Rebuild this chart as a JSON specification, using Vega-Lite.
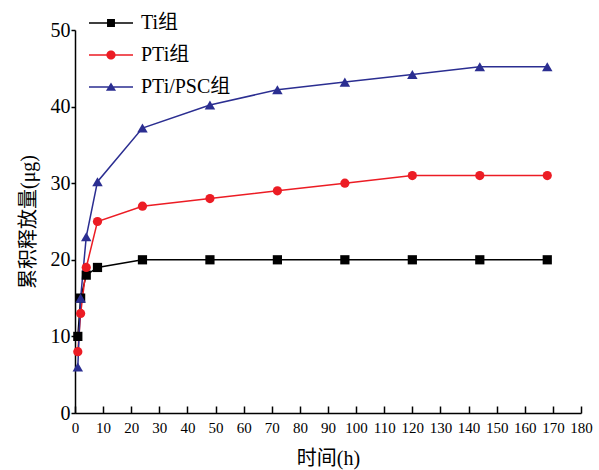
{
  "$schema": "https://vega.github.io/schema/vega-lite/v6.json",
  "width": 506,
  "height": 383,
  "autosize": "none",
  "padding": {"left": 75, "top": 30, "right": 18, "bottom": 57},
  "background": "white",
  "config": {
    "view": {"stroke": null},
    "font": "Liberation Serif, Noto Sans CJK SC",
    "axis": {
      "grid": false,
      "domainColor": "#000000",
      "domainWidth": 1.5,
      "tickColor": "#000000",
      "tickWidth": 1.5,
      "labelColor": "#000000",
      "titleColor": "#000000",
      "labelFont": "Liberation Serif",
      "titleFont": "Liberation Serif, Noto Sans CJK SC",
      "titleFontWeight": "normal"
    },
    "legend": {
      "symbolOpacity": 1,
      "symbolStrokeWidth": 0,
      "symbolSize": 1936
    }
  },
  "data": {
    "values": [
      {"t": 1, "v": 10, "g": "Ti组"},
      {"t": 2, "v": 15, "g": "Ti组"},
      {"t": 4, "v": 18, "g": "Ti组"},
      {"t": 8, "v": 19, "g": "Ti组"},
      {"t": 24, "v": 20, "g": "Ti组"},
      {"t": 48, "v": 20, "g": "Ti组"},
      {"t": 72, "v": 20, "g": "Ti组"},
      {"t": 96, "v": 20, "g": "Ti组"},
      {"t": 120, "v": 20, "g": "Ti组"},
      {"t": 144, "v": 20, "g": "Ti组"},
      {"t": 168, "v": 20, "g": "Ti组"},
      {"t": 1, "v": 8, "g": "PTi组"},
      {"t": 2, "v": 13, "g": "PTi组"},
      {"t": 4, "v": 19, "g": "PTi组"},
      {"t": 8, "v": 25, "g": "PTi组"},
      {"t": 24, "v": 27, "g": "PTi组"},
      {"t": 48, "v": 28, "g": "PTi组"},
      {"t": 72, "v": 29, "g": "PTi组"},
      {"t": 96, "v": 30, "g": "PTi组"},
      {"t": 120, "v": 31, "g": "PTi组"},
      {"t": 144, "v": 31, "g": "PTi组"},
      {"t": 168, "v": 31, "g": "PTi组"},
      {"t": 1, "v": 6, "g": "PTi/PSC组"},
      {"t": 2, "v": 15, "g": "PTi/PSC组"},
      {"t": 4, "v": 23, "g": "PTi/PSC组"},
      {"t": 8, "v": 30.2, "g": "PTi/PSC组"},
      {"t": 24, "v": 37.2, "g": "PTi/PSC组"},
      {"t": 48, "v": 40.2, "g": "PTi/PSC组"},
      {"t": 72, "v": 42.2, "g": "PTi/PSC组"},
      {"t": 96, "v": 43.2, "g": "PTi/PSC组"},
      {"t": 120, "v": 44.2, "g": "PTi/PSC组"},
      {"t": 144, "v": 45.2, "g": "PTi/PSC组"},
      {"t": 168, "v": 45.2, "g": "PTi/PSC组"}
    ]
  },
  "encoding": {
    "x": {
      "field": "t",
      "type": "quantitative",
      "scale": {"domain": [0, 180], "nice": false},
      "axis": {
        "values": [0, 10, 20, 30, 40, 50, 60, 70, 80, 90, 100, 110, 120, 130, 140, 150, 160, 170, 180],
        "title": "时间(h)",
        "tickSize": -7,
        "labelPadding": 14,
        "labelFontSize": 15,
        "labelFlush": false,
        "labelOverlap": false,
        "titleFontSize": 20,
        "titlePadding": 13
      }
    },
    "y": {
      "field": "v",
      "type": "quantitative",
      "scale": {"domain": [0, 50], "nice": false},
      "axis": {
        "values": [0, 10, 20, 30, 40, 50],
        "title": "累积释放量(μg)",
        "tickSize": 4,
        "labelPadding": 1,
        "labelFontSize": 20,
        "labelFlush": false,
        "titleFontSize": 20,
        "titlePadding": 12
      }
    }
  },
  "layer": [
    {
      "mark": {
        "type": "line",
        "strokeWidth": 1.5,
        "stroke": {"expr": "datum.g === 'Ti组' ? '#000000' : (datum.g === 'PTi组' ? '#ec1c24' : '#2b2e91')"}
      },
      "encoding": {"detail": {"field": "g", "type": "nominal"}}
    },
    {
      "mark": {
        "type": "point",
        "filled": true,
        "opacity": 1,
        "fill": {"expr": "datum.g === 'Ti组' ? '#000000' : (datum.g === 'PTi组' ? '#ec1c24' : '#2b2e91')"},
        "shape": {"expr": "datum.g === 'Ti组' ? 'square' : (datum.g === 'PTi组' ? 'circle' : 'triangle-up')"},
        "size": {"expr": "datum.g === 'PTi/PSC组' ? 110 : 85"}
      },
      "encoding": {}
    },
    {
      "mark": {"type": "point", "filled": true, "opacity": 0},
      "encoding": {
        "color": {
          "field": "g",
          "type": "nominal",
          "scale": {"domain": ["Ti组", "PTi组", "PTi/PSC组"], "range": ["#000000", "#ec1c24", "#2b2e91"]},
          "legend": {
            "title": null,
            "orient": "none",
            "legendX": 14,
            "legendY": -29,
            "padding": 0,
            "symbolSize": 1936,
            "symbolOpacity": 1,
            "symbolStrokeWidth": 0,
            "labelFontSize": 20,
            "labelFont": "Liberation Serif, Noto Sans CJK SC",
            "labelColor": "#000000",
            "labelOffset": 8,
            "rowPadding": -9
          }
        },
        "shape": {
          "field": "g",
          "type": "nominal",
          "scale": {
            "domain": ["Ti组", "PTi组", "PTi/PSC组"],
            "range": [
              "M-1,-0.036H1V0.036H-1Z M-0.18,-0.18H0.18V0.18H-0.18Z",
              "M-1,-0.036H1V0.036H-1Z M-0.21,0A0.21,0.21 0 1,1 0.21,0A0.21,0.21 0 1,1 -0.21,0Z",
              "M-1,-0.036H1V0.036H-1Z M0,-0.2L0.23,0.17L-0.23,0.17Z"
            ]
          },
          "legend": {
            "title": null,
            "orient": "none",
            "legendX": 14,
            "legendY": -29,
            "padding": 0,
            "symbolSize": 1936,
            "symbolOpacity": 1,
            "symbolStrokeWidth": 0,
            "labelFontSize": 20,
            "labelFont": "Liberation Serif, Noto Sans CJK SC",
            "labelColor": "#000000",
            "labelOffset": 8,
            "rowPadding": -9
          }
        }
      }
    }
  ]
}
